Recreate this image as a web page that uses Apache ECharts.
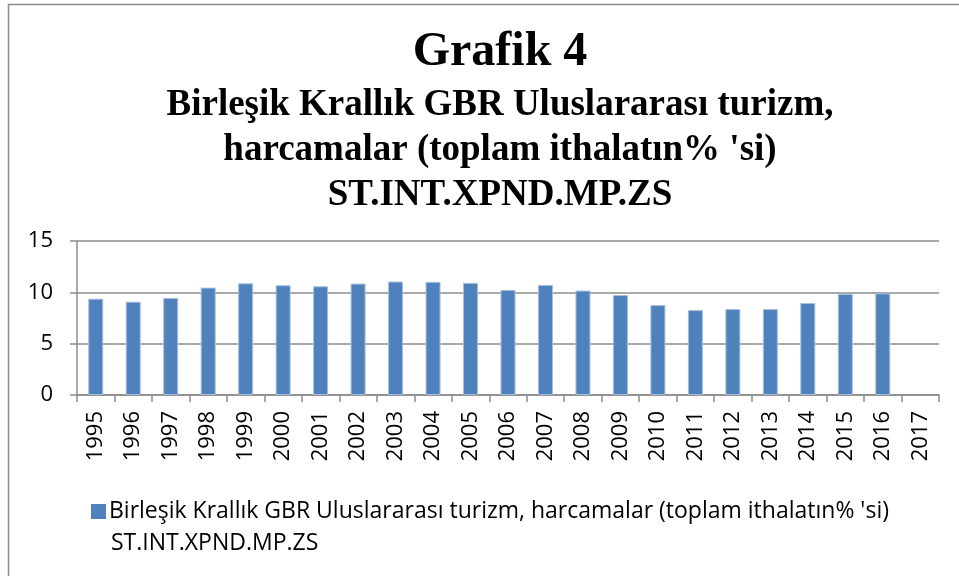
<!DOCTYPE html>
<html>
<head>
<meta charset="utf-8">
<script src="https://cdn.jsdelivr.net/npm/echarts@6/dist/echarts.min.js"></script>
<style>
  html, body { margin: 0; padding: 0; background: #fff; }
  #chart { width: 959px; height: 576px; }
</style>
</head>
<body>
<div id="chart"></div>
<script>
// veriler
const years = ['1995', '1996', '1997', '1998', '1999', '2000', '2001', '2002', '2003', '2004', '2005', '2006',
  '2007', '2008', '2009', '2010', '2011', '2012', '2013', '2014', '2015', '2016', '2017']
const values = [9.38, 9.09, 9.45, 10.46, 10.88, 10.69, 10.59, 10.85, 11.05, 11.02, 10.92, 10.24,
  10.72, 10.17, 9.74, 8.76, 8.27, 8.37, 8.37, 8.96, 9.84, 9.90, null]
const seriesName = "Birleşik Krallık GBR Uluslararası turizm, harcamalar (toplam ithalatın% 'si)"
const seriesCode = 'ST.INT.XPND.MP.ZS'
const yTicks = [0, 5, 10, 15]

const chart = echarts.init(document.getElementById('chart'))
const gridColor = '#8c8c8c'

chart.setOption({
  animation: false,
  graphic: [{
    type: 'rect',
    shape: { x: 8.5, y: 4.5, width: 1000, height: 1000 },
    style: { fill: 'none', stroke: '#8c8c8c', lineWidth: 1.5 }
  }],
  title: [{
    text: 'Grafik 4',
    left: 495,
    top: 24,
    textAlign: 'center',
    textStyle: { fontFamily: 'Liberation Serif', fontWeight: 'bold', fontSize: 48, color: '#000' }
  }, {
    text: 'Birleşik Krallık GBR Uluslararası turizm,\nharcamalar (toplam ithalatın% \'si)\n' + seriesCode,
    left: 495,
    top: 78,
    textAlign: 'center',
    textStyle: { fontFamily: 'Liberation Serif', fontWeight: 'bold', fontSize: 37, lineHeight: 45, color: '#000' }
  }, {
    // ikinci satır lejant metni
    text: seriesCode,
    left: 106,
    top: 527,
    textStyle: { fontFamily: 'Open Sans', fontWeight: 'normal', fontSize: 23, color: '#000' }
  }],
  legend: {
    left: 86,
    top: 495,
    icon: 'rect',
    itemWidth: 15,
    itemHeight: 15,
    itemGap: 0,
    textStyle: { fontFamily: 'Open Sans', fontSize: 23, color: '#000', padding: [0, 0, 0, -2] },
    itemStyle: { borderWidth: 0 }
  },
  grid: { left: 77, right: 20, top: 241, bottom: 181, containLabel: false },
  xAxis: {
    type: 'category',
    data: years,
    boundaryGap: true,
    axisLine: { lineStyle: { color: gridColor, width: 1.5 } },
    axisTick: { show: true, alignWithLabel: false, length: 7, lineStyle: { color: gridColor, width: 1.5 } },
    axisLabel: {
      interval: 0,
      rotate: 90,
      margin: 16,
      fontFamily: 'Open Sans',
      fontSize: 22,
      color: '#000'
    }
  },
  yAxis: {
    type: 'value',
    min: yTicks[0],
    max: yTicks[yTicks.length - 1],
    interval: 5,
    axisLine: { show: true, lineStyle: { color: gridColor, width: 1.5 } },
    axisTick: { show: true, length: 7, lineStyle: { color: gridColor, width: 1.5 } },
    splitLine: { lineStyle: { color: gridColor, width: 1.5 } },
    axisLabel: { margin: 24, fontFamily: 'Open Sans', fontSize: 22, color: '#000' }
  },
  series: [{
    name: seriesName,
    type: 'bar',
    data: values,
    barWidth: 15,
    itemStyle: { color: '#4F81BD', borderColor: '#a7bfde', borderWidth: 1 }
  }]
})
</script>
</body>
</html>
